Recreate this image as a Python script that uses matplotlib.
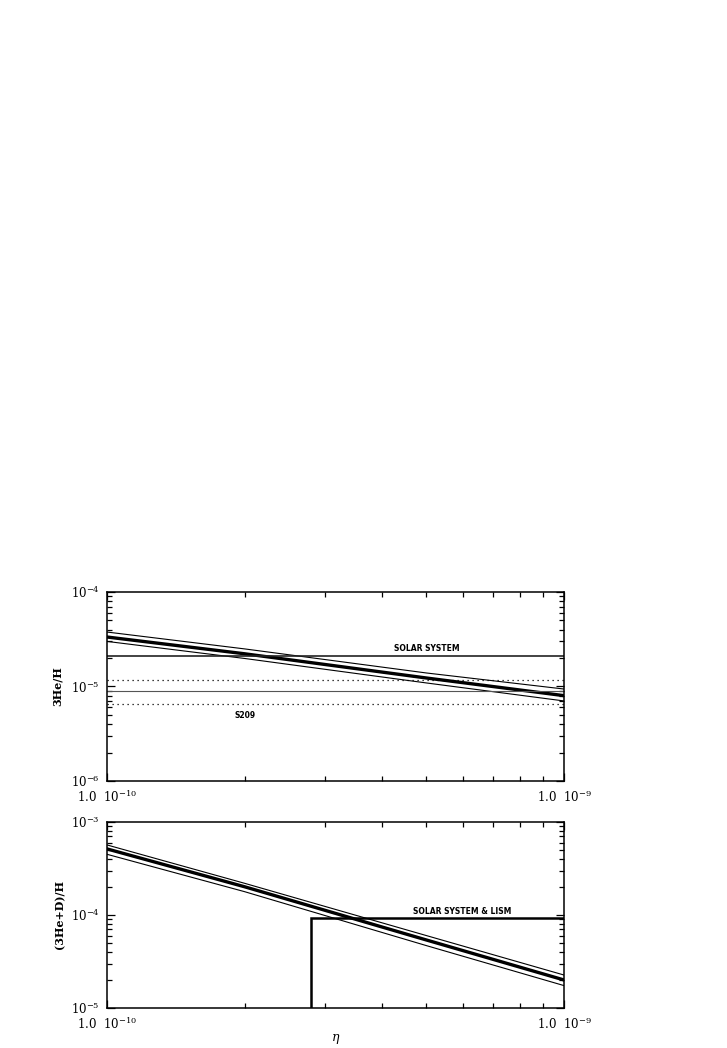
import numpy as np
import matplotlib
matplotlib.use('Agg')
import matplotlib.pyplot as plt
from matplotlib.ticker import LogLocator, FixedLocator, FixedFormatter, NullFormatter

plt.rcParams['font.family'] = ['DejaVu Serif']
plt.rcParams['mathtext.fontset'] = 'dejavuserif'

eta = [1e-10, 2e-10, 5e-10, 1e-9]

# top panel: 3He/H prediction (central, upper, lower)
he3_mid = [3.34e-5, 2.22e-5, 1.23e-5, 8.0e-6]
he3_up = [3.77e-5, 2.50e-5, 1.39e-5, 9.4e-6]
he3_lo = [3.00e-5, 1.98e-5, 1.09e-5, 7.03e-6]
solar_he3 = 2.1e-5
s209_val = 9.05e-6
s209_band = [1.17e-5, 6.5e-6]

# bottom panel: (3He+D)/H prediction
hed_mid = [5.13e-4, 2.01e-4, 5.38e-5, 2.0e-5]
hed_up = [5.66e-4, 2.19e-4, 6.0e-5, 2.26e-5]
hed_lo = [4.49e-4, 1.78e-4, 4.68e-5, 1.74e-5]
lism_val = 9.3e-5
eta_limit = 2.8e-10

xticks = [1e-10, 1e-9]
xticklabels = [r'1.0  $\mathregular{10^{-10}}$', r'1.0  $\mathregular{10^{-9}}$']

fig = plt.figure(figsize=(7.27, 10.48), dpi=100)
ax1 = fig.add_axes([0.1472, 0.2548, 0.6286, 0.1803])
ax2 = fig.add_axes([0.1472, 0.0382, 0.6286, 0.1775])


def style_axis(ax, ylo, yhi):
    ax.set_xscale('log')
    ax.set_yscale('log')
    ax.set_xlim(1e-10, 1e-9)
    ax.set_ylim(ylo, yhi)
    ax.xaxis.set_major_locator(FixedLocator(xticks))
    ax.xaxis.set_major_formatter(FixedFormatter(xticklabels))
    ax.xaxis.set_minor_locator(LogLocator(base=10, subs=np.arange(2, 10)))
    ax.xaxis.set_minor_formatter(NullFormatter())
    ax.yaxis.set_major_locator(LogLocator(base=10, numticks=10))
    ax.yaxis.set_minor_locator(LogLocator(base=10, subs=np.arange(2, 10), numticks=10))
    ax.yaxis.set_minor_formatter(NullFormatter())
    ax.tick_params(which='both', direction='in', top=True, right=True,
                   labelsize=8.5, width=0.9)
    ax.tick_params(axis='x', pad=6)
    ax.tick_params(axis='y', pad=5)
    ax.tick_params(which='major', length=6)
    ax.tick_params(which='minor', length=3.5)
    for s in ax.spines.values():
        s.set_linewidth(1.1)


# top panel
style_axis(ax1, 1e-6, 1e-4)
ax1.plot(eta, he3_mid, color='black', lw=2.4)
ax1.plot(eta, he3_up, color='black', lw=0.8)
ax1.plot(eta, he3_lo, color='black', lw=0.8)
ax1.axhline(solar_he3, color='#222222', lw=1.2)
ax1.axhline(s209_val, color='#555555', lw=0.8)
for v in s209_band:
    ax1.axhline(v, color='black', lw=0.9, ls=(0, (1, 3)))
ax1.text(5.0e-10, 2.5e-5, 'SOLAR SYSTEM', fontsize=5.5, fontweight='bold',
         family='DejaVu Sans', ha='center', va='center')
ax1.text(2.0e-10, 4.9e-6, 'S209', fontsize=5.5, fontweight='bold',
         family='DejaVu Sans', ha='center', va='center')
ax1.set_ylabel('3He/H', fontsize=8, fontweight='bold', labelpad=6)

# bottom panel
style_axis(ax2, 1e-5, 1e-3)
ax2.plot(eta, hed_mid, color='black', lw=2.4)
ax2.plot(eta, hed_up, color='black', lw=0.8)
ax2.plot(eta, hed_lo, color='black', lw=0.8)
ax2.plot([eta_limit, eta_limit, 1e-9], [1e-5, lism_val, lism_val],
         color='black', lw=1.8, solid_joinstyle='miter')
ax2.text(6.0e-10, 1.09e-4, 'SOLAR SYSTEM & LISM', fontsize=5.5, fontweight='bold',
         family='DejaVu Sans', ha='center', va='center')
ax2.set_ylabel('(3He+D)/H', fontsize=8, fontweight='bold', labelpad=4)
ax2.set_xlabel(r'$\eta$', fontsize=9, fontweight='bold', labelpad=0)

fig.savefig('out.png', dpi=100)
